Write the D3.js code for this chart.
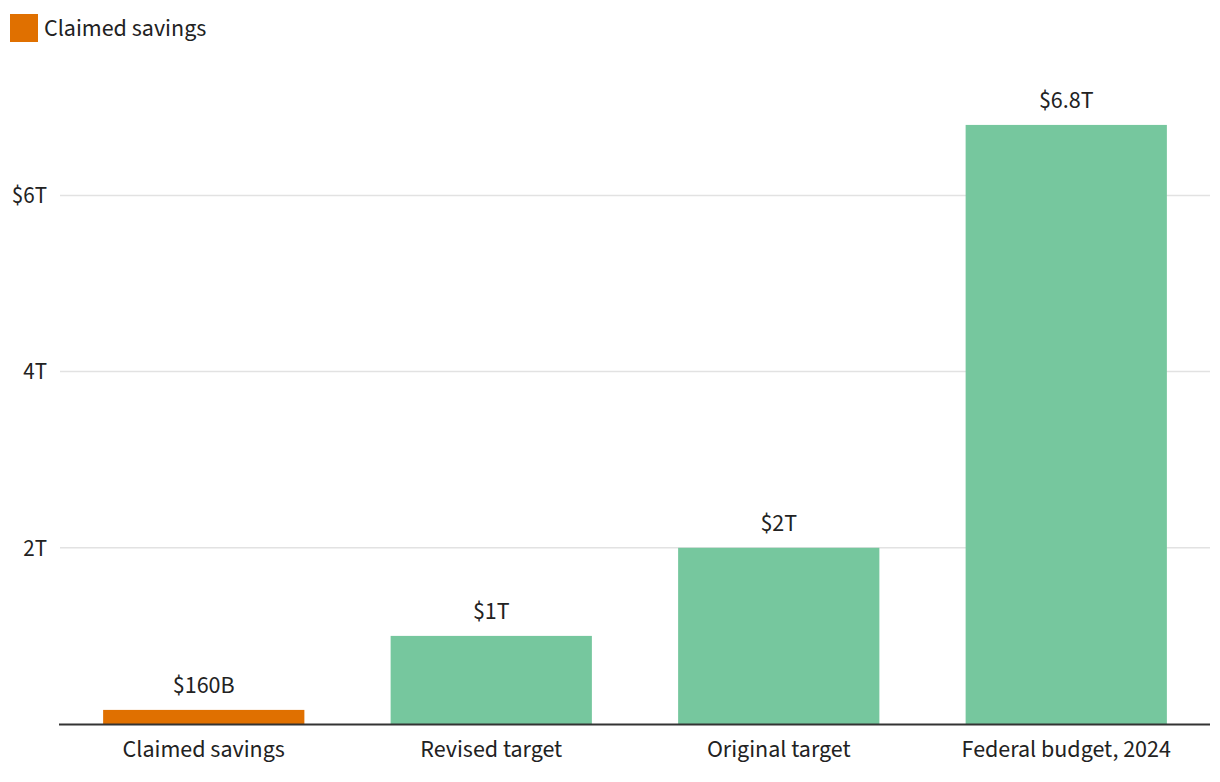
<!DOCTYPE html>
<html><head><meta charset="utf-8">
<script src="https://cdn.jsdelivr.net/npm/d3@7"></script>
<style>
body{margin:0;background:#fff;}
svg{display:block;font-family:"Source Sans Pro","Source Sans 3",Lato,"Noto Sans",sans-serif;}
</style></head>
<body><svg id="c" width="1220" height="782"></svg>
<script>
const categories = ["Claimed savings","Revised target","Original target","Federal budget, 2024"];
const values = [0.16, 1, 2, 6.8]; // trillions
const valueLabels = ["$160B","$1T","$2T","$6.8T"];
const barColors = ["#e07000","#76c79e","#76c79e","#76c79e"];
const tickValues = [2,4,6];
const tickLabels = ["2T","4T","$6T"];
const legendLabel = "Claimed savings";

const svg = d3.select("#c");
const left = 59, right = 1210, bottom = 724;
const x = d3.scaleBand().domain(categories).range([left+1,right]).paddingInner(0.3).paddingOuter(0.15);
const y = d3.scaleLinear().domain([0,6.8]).range([bottom, bottom-6.8*88.1]);

// gridlines
svg.append("g").selectAll("line").data(tickValues).join("line")
  .attr("x1",left+1).attr("x2",right).attr("y1",d=>y(d)).attr("y2",d=>y(d))
  .attr("stroke","#e2e2e2").attr("stroke-width",1.5);
svg.append("g").selectAll("text").data(tickValues).join("text")
  .attr("x",47).attr("y",d=>y(d)).attr("dy","0.34em").attr("text-anchor","end")
  .attr("font-size",23).attr("fill","#222").text((d,i)=>tickLabels[i]);

// bars
svg.append("g").selectAll("rect").data(categories).join("rect")
  .attr("x",d=>x(d)).attr("width",x.bandwidth())
  .attr("y",(d,i)=>y(values[i])).attr("height",(d,i)=>y(0)-y(values[i]))
  .attr("fill",(d,i)=>barColors[i]);

// value labels
svg.append("g").selectAll("text").data(categories).join("text")
  .attr("x",d=>x(d)+x.bandwidth()/2).attr("y",(d,i)=>y(values[i])-17)
  .attr("text-anchor","middle").attr("font-size",24).attr("fill","#222")
  .text((d,i)=>valueLabels[i]);

// baseline axis
svg.append("line").attr("x1",left).attr("x2",right).attr("y1",bottom+0.5).attr("y2",bottom+0.5)
  .attr("stroke","#333").attr("stroke-width",2);

// category labels
svg.append("g").selectAll("text").data(categories).join("text")
  .attr("x",d=>x(d)+x.bandwidth()/2).attr("y",757)
  .attr("text-anchor","middle").attr("font-size",24).attr("fill","#222").text(d=>d);

// legend
svg.append("rect").attr("x",10).attr("y",14).attr("width",28).attr("height",28).attr("fill",barColors[0]);
svg.append("text").attr("x",44).attr("y",35.5).attr("font-size",24).attr("fill","#222").text(legendLabel);
</script></body></html>
